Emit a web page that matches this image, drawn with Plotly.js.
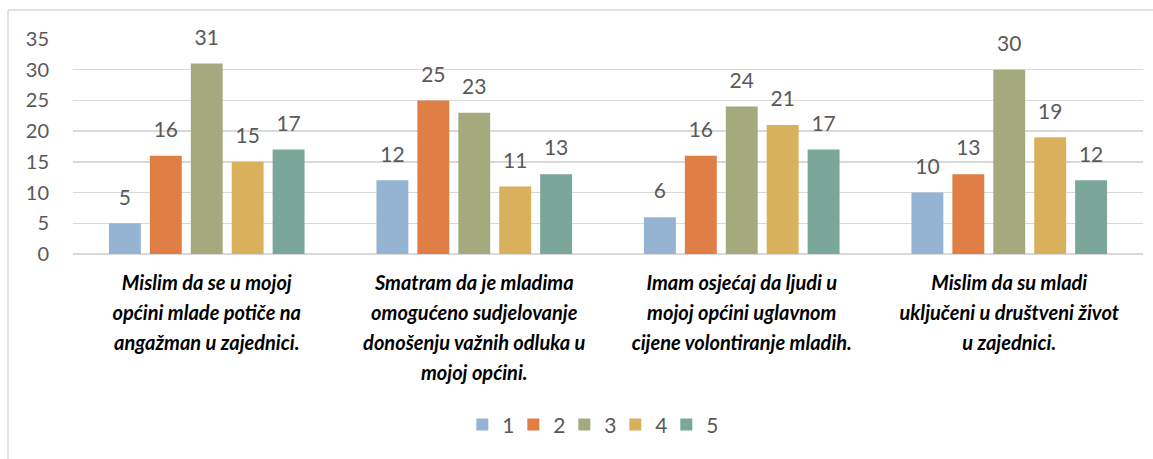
<!DOCTYPE html>
<html>
<head>
<meta charset="utf-8">
<script src="https://cdn.plot.ly/plotly-3.0.1.min.js"></script>
<style>html,body{margin:0;padding:0;background:#fff;}#chart{width:1153px;height:459px;}</style>
</head>
<body>
<div id="chart"></div>
<script>
const categories = [
  "Mislim da se u mojoj općini mlade potiče na angažman u zajednici.",
  "Smatram da je mladima omogućeno sudjelovanje donošenju važnih odluka u mojoj općini.",
  "Imam osjećaj da ljudi u mojoj općini uglavnom cijene volontiranje mladih.",
  "Mislim da su mladi uključeni u društveni život u zajednici."
];
const tickLines = [
  ["Mislim da se u mojoj", "općini mlade potiče na", "angažman u zajednici."],
  ["Smatram da je mladima", "omogućeno sudjelovanje", "donošenju važnih odluka u", "mojoj općini."],
  ["Imam osjećaj da ljudi u", "mojoj općini uglavnom", "cijene volontiranje mladih."],
  ["Mislim da su mladi", "uključeni u društveni život", "u zajednici."]
];
const seriesNames = ["1", "2", "3", "4", "5"];
const s1 = [5, 12, 6, 10];
const s2 = [16, 25, 16, 13];
const s3 = [31, 23, 24, 30];
const s4 = [15, 11, 21, 19];
const s5 = [17, 13, 17, 12];
const seriesValues = [s1, s2, s3, s4, s5];
const colors = ["#95B4D4", "#DF7F45", "#A5AA7E", "#D9B05C", "#7BA69A"];
const yTicks = [0, 5, 10, 15, 20, 25, 30, 35];

const span = s => '<span style="font-size:20px">' + s + '</span>';
const tickText = tickLines.map(l => l.map(span).join('<br>'));

const traces = [];
seriesValues.forEach((vals, i) => {
  traces.push({
    type: 'bar', name: seriesNames[i], x: categories, y: vals,
    offsetgroup: String(i + 1),
    marker: {color: colors[i], line: {width: 0}},
    hoverinfo: 'skip'
  });
});
seriesValues.forEach((vals, i) => {
  traces.push({
    type: 'scatter', mode: 'markers+text', x: categories, y: vals,
    offsetgroup: String(i + 1),
    text: vals.map(String), textposition: 'top center',
    textfont: {family: 'Lato, sans-serif', size: 21, color: '#595959'},
    marker: {size: 20, opacity: 0},
    showlegend: false, hoverinfo: 'skip', cliponaxis: false
  });
});

const px = p => (p - 73) / 1070;
const layout = {
  width: 1153, height: 459,
  margin: {l: 73, r: 10, t: 39, b: 205},
  paper_bgcolor: '#fff', plot_bgcolor: '#fff',
  barmode: 'group', bargap: 0.235, bargroupgap: 0.22,
  scattermode: 'group', scattergap: 0.235,
  font: {family: 'Lato, sans-serif', color: '#595959'},
  xaxis: {
    type: 'category', tickmode: 'array', tickvals: categories, ticktext: tickText,
    tickfont: {family: 'Lato, sans-serif', size: 23, color: '#000', weight: 'bold', style: 'italic'},
    ticks: '', showline: false, showgrid: false, zeroline: false,
    tickangle: 0, ticklabelstandoff: 12, automargin: false
  },
  yaxis: {
    range: [0, 35], tickmode: 'array', tickvals: yTicks,
    tickfont: {family: 'Lato, sans-serif', size: 20, color: '#595959'},
    gridcolor: '#D9D9D9', gridwidth: 1.5, zeroline: true, zerolinecolor: '#D9D9D9', zerolinewidth: 1.5,
    showline: false, ticks: 'outside', ticklen: 19, tickcolor: 'rgba(0,0,0,0)', automargin: false
  },
  showlegend: true,
  legend: {
    orientation: 'h', x: 0.483, xanchor: 'center', y: -0.795, yanchor: 'middle',
    font: {family: 'Lato, sans-serif', size: 21, color: '#595959'},
    itemwidth: 30, entrywidth: 6, traceorder: 'normal'
  },
  shapes: [
    {type: 'line', xref: 'paper', yref: 'paper', x0: px(8), x1: px(1160), y0: 1 + 29/215, y1: 1 + 29/215, line: {color: '#D9D9D9', width: 1.5}},
    {type: 'line', xref: 'paper', yref: 'paper', x0: px(8), x1: px(8), y0: 1 + 29/215, y1: -1.1, line: {color: '#D9D9D9', width: 1.5}}
  ]
};
Plotly.newPlot('chart', traces, layout, {displayModeBar: false, staticPlot: true});
</script>
</body>
</html>
